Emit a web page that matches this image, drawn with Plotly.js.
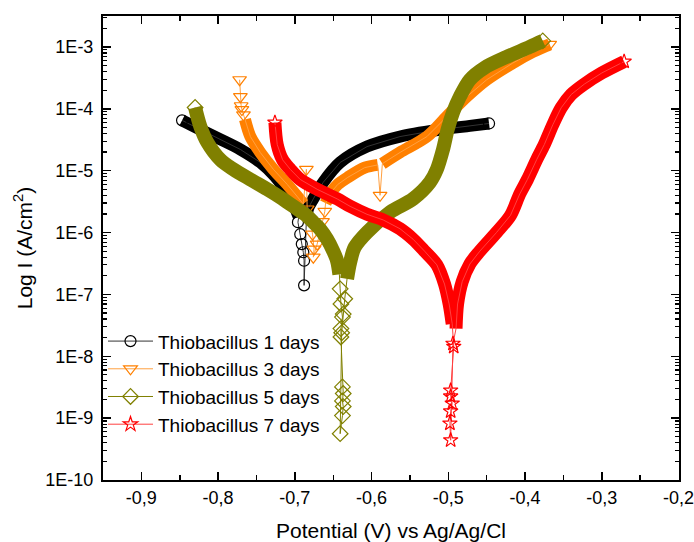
<!DOCTYPE html>
<html><head><meta charset="utf-8">
<script src="https://cdn.plot.ly/plotly-3.0.1.min.js"></script>
<style>html,body{margin:0;padding:0;background:#fff}#chart{width:694px;height:542px}</style>
</head><body><div id="chart"></div>
<script>
const seriesNames = ['Thiobacillus 1 days','Thiobacillus 3 days','Thiobacillus 5 days','Thiobacillus 7 days'];

// 1 day (black, circles)
const x1 = [-0.847,-0.823,-0.797,-0.771,-0.745,-0.726,-0.713,-0.704,-0.699,-0.695,
            -0.696,-0.693,-0.691,-0.689,-0.688,-0.688,
            -0.685,-0.683,-0.676,-0.663,-0.641,-0.606,-0.563,-0.511,-0.472,-0.447];
const y1 = [6.5e-5,4.6e-5,3.2e-5,2.2e-5,1.36e-5,8.1e-6,5.0e-6,3.5e-6,2.4e-6,1.8e-6,
            1.47e-6,9.4e-7,6.5e-7,4.8e-7,3.5e-7,1.4e-7,
            1.64e-6,2.4e-6,3.5e-6,6.5e-6,1.36e-5,2.45e-5,3.56e-5,4.6e-5,5.3e-5,5.8e-5];
const dense1 = [[0,9],[16,25]];

// 3 days (orange, down triangles)
const x3 = [-0.772,-0.771,-0.770,-0.769,-0.767,-0.765,
            -0.758,-0.745,-0.728,-0.710,-0.697,-0.689,
            -0.685,-0.684,-0.680,-0.677,-0.675,-0.676,-0.671,-0.667,-0.664,-0.661,
            -0.660,-0.652,-0.644,-0.631,-0.609,-0.592,
            -0.589,
            -0.586,-0.563,-0.528,-0.502,-0.476,-0.450,-0.416,-0.390,-0.368];
const y3 = [2.95e-4,1.57e-4,1.12e-4,9.7e-5,8.0e-5,6.7e-5,
            3.56e-5,1.96e-5,1.05e-5,6.0e-6,3.85e-6,2.9e-6,
            1.05e-5,2.4e-6,1.6e-6,9.4e-7,5.4e-7,4.0e-7,6.5e-7,1.0e-6,1.5e-6,2.2e-6,
            3.0e-6,4.6e-6,6.0e-6,7.8e-6,1.12e-5,1.24e-5,
            4.0e-6,
            1.3e-5,1.97e-5,3.55e-5,7.5e-5,1.57e-4,2.95e-4,5.5e-4,8.3e-4,1.1e-3];
const dense3 = [[5,11],[22,27],[29,37]];

// 5 days (olive, diamonds)
const x5 = [-0.830,-0.823,-0.814,-0.797,-0.780,-0.758,-0.736,-0.719,-0.702,-0.687,-0.676,-0.667,-0.658,-0.650,-0.645,-0.642,
            -0.641,-0.640,-0.638,-0.640,-0.640,-0.638,-0.637,-0.638,-0.637,-0.638,-0.641,-0.639,-0.637,-0.635,
            -0.632,-0.628,-0.622,-0.606,-0.576,-0.546,-0.524,-0.515,-0.507,-0.501,-0.494,-0.485,-0.472,-0.453,-0.424,-0.394,-0.377];
const y5 = [1.05e-4,5.1e-5,2.85e-5,1.5e-5,1.05e-5,7.2e-6,5.0e-6,3.7e-6,2.65e-6,1.97e-6,1.47e-6,1.13e-6,7.8e-7,5.0e-7,3.5e-7,2.1e-7,
            1.23e-7,7.0e-8,4.3e-8,2.8e-8,2.05e-8,3.2e-9,2.5e-9,1.9e-9,1.54e-9,1.1e-9,5.6e-10,2.4e-8,4.8e-8,8.5e-8,
            1.78e-7,3.3e-7,5.8e-7,1.01e-6,2.13e-6,3.5e-6,6.5e-6,1.05e-5,2.2e-5,4.6e-5,8.7e-5,1.57e-4,2.95e-4,4.6e-4,6.9e-4,1.0e-3,1.25e-3];
const dense5 = [[0,15],[30,46]];

// 7 days (red, stars)
const x7 = [-0.726,-0.723,-0.716,-0.706,-0.693,-0.671,-0.645,-0.628,-0.606,-0.585,-0.563,-0.546,-0.531,-0.515,-0.505,-0.499,-0.495,
            -0.493,-0.497,-0.497,-0.495,-0.497,-0.498,-0.497,-0.494,
            -0.490,-0.488,-0.482,-0.472,-0.459,-0.437,-0.419,-0.407,-0.397,-0.385,-0.375,-0.364,-0.353,-0.340,-0.323,-0.300,-0.271];
const y7 = [6.0e-5,2.64e-5,1.5e-5,1.05e-5,7.2e-6,5.0e-6,3.5e-6,2.65e-6,1.97e-6,1.6e-6,1.15e-6,7.8e-7,5.0e-7,3.0e-7,1.47e-7,7.0e-8,3.35e-8,
            1.43e-8,2.8e-9,2.25e-9,1.73e-9,1.29e-9,8.2e-10,4.4e-10,1.6e-8,
            2.8e-8,7.0e-8,1.6e-7,3.1e-7,5.0e-7,1.01e-6,1.9e-6,4.2e-6,7.2e-6,1.5e-5,2.64e-5,5.5e-5,1.04e-4,1.7e-4,2.5e-4,3.8e-4,5.8e-4];
const dense7 = [[0,16],[25,41]];

const xTickVals = [-0.9,-0.8,-0.7,-0.6,-0.5,-0.4,-0.3,-0.2];
const xTickText = ['-0,9','-0,8','-0,7','-0,6','-0,5','-0,4','-0,3','-0,2'];
const yTickVals = [1e-10,1e-9,1e-8,1e-7,1e-6,1e-5,1e-4,1e-3];
const yTickText = ['1E-10','1E-9','1E-8','1E-7','1E-6','1E-5','1E-4','1E-3'];

const styles = [
  {color:'#000000', line:'#333333', symbol:'circle-open', size:11, band:12},
  {color:'#FF8000', line:'#FFA040', symbol:'triangle-down-open', size:12, band:12},
  {color:'#808000', line:'#808000', symbol:'diamond-open', size:12, band:14},
  {color:'#FF0000', line:'#FF4040', symbol:'star-open', size:11, band:13}
];
const data = [[x1,y1,dense1],[x3,y3,dense3],[x5,y5,dense5],[x7,y7,dense7]];

function inDense(i, ranges){ return ranges.some(r=> i>=r[0] && i<=r[1]); }
function bandY(y, ranges){ return y.map((v,i)=> inDense(i, ranges) ? v : null); }
function markerColors(y, ranges, color){
  const last = y.length-1;
  return y.map((v,i)=> (inDense(i, ranges) && i!==0 && i!==last) ? 'rgba(0,0,0,0)' : color);
}

const traces = [];
data.forEach((d,k)=>{
  const s = styles[k];
  traces.push({x:d[0], y:bandY(d[1], d[2]), mode:'lines', connectgaps:false,
    line:{color:s.color, width:s.band, shape:'spline', smoothing:0.9},
    showlegend:false, hoverinfo:'skip'});
  traces.push({x:d[0], y:d[1], mode:'lines+markers', name:seriesNames[k],
    line:{color:s.line, width:1},
    marker:{symbol:s.symbol, size:s.size, color:markerColors(d[1], d[2], s.color), line:{width:1.2}}});
});

const minorY = [];
for (let e=-10; e<=-3; e++) for (let m=2; m<=9; m++) { const v=m*Math.pow(10,e); if (v<3.1e-3) minorY.push(v); }

const axisCommon = {ticks:'inside', ticklen:8, tickwidth:1.5, tickcolor:'#000', showline:true, linecolor:'#000',
  linewidth:2, mirror:'allticks', showgrid:false, zeroline:false, tickfont:{size:18}, ticklabeloverflow:'allow'};

const layout = {
  width:694, height:542, margin:{l:103, r:15, t:16, b:62},
  paper_bgcolor:'#fff', plot_bgcolor:'#fff',
  font:{family:'"Liberation Sans", Arial, sans-serif', color:'#000', size:18},
  xaxis: Object.assign({}, axisCommon, {range:[-0.95,-0.1995], tickmode:'array', tickvals:xTickVals, ticktext:xTickText,
    minor:{dtick:0.05, tick0:-0.95, ticks:'inside', ticklen:5, tickwidth:1.5, tickcolor:'#000', showgrid:false},
    title:{text:'Potential (V) vs Ag/Ag/Cl', font:{size:21}}}),
  yaxis: Object.assign({}, axisCommon, {type:'log', range:[-10,-2.5], tickmode:'array', tickvals:yTickVals, ticktext:yTickText,
    ticklabelstandoff:4,
    minor:{tickmode:'array', tickvals:minorY, ticks:'inside', ticklen:4, tickwidth:1.2, tickcolor:'#000', showgrid:false},
    title:{text:'Log I (A/cm<sup>2</sup>)', font:{size:21}, standoff:7}}),
  legend:{x:0, xanchor:'left', y:0.34, yanchor:'top', bgcolor:'rgba(0,0,0,0)', font:{size:19}, itemwidth:45,
    tracegroupgap:0},
  showlegend:true
};

Plotly.newPlot('chart', traces, layout, {displayModeBar:false, staticPlot:true});
</script>
</body></html>
